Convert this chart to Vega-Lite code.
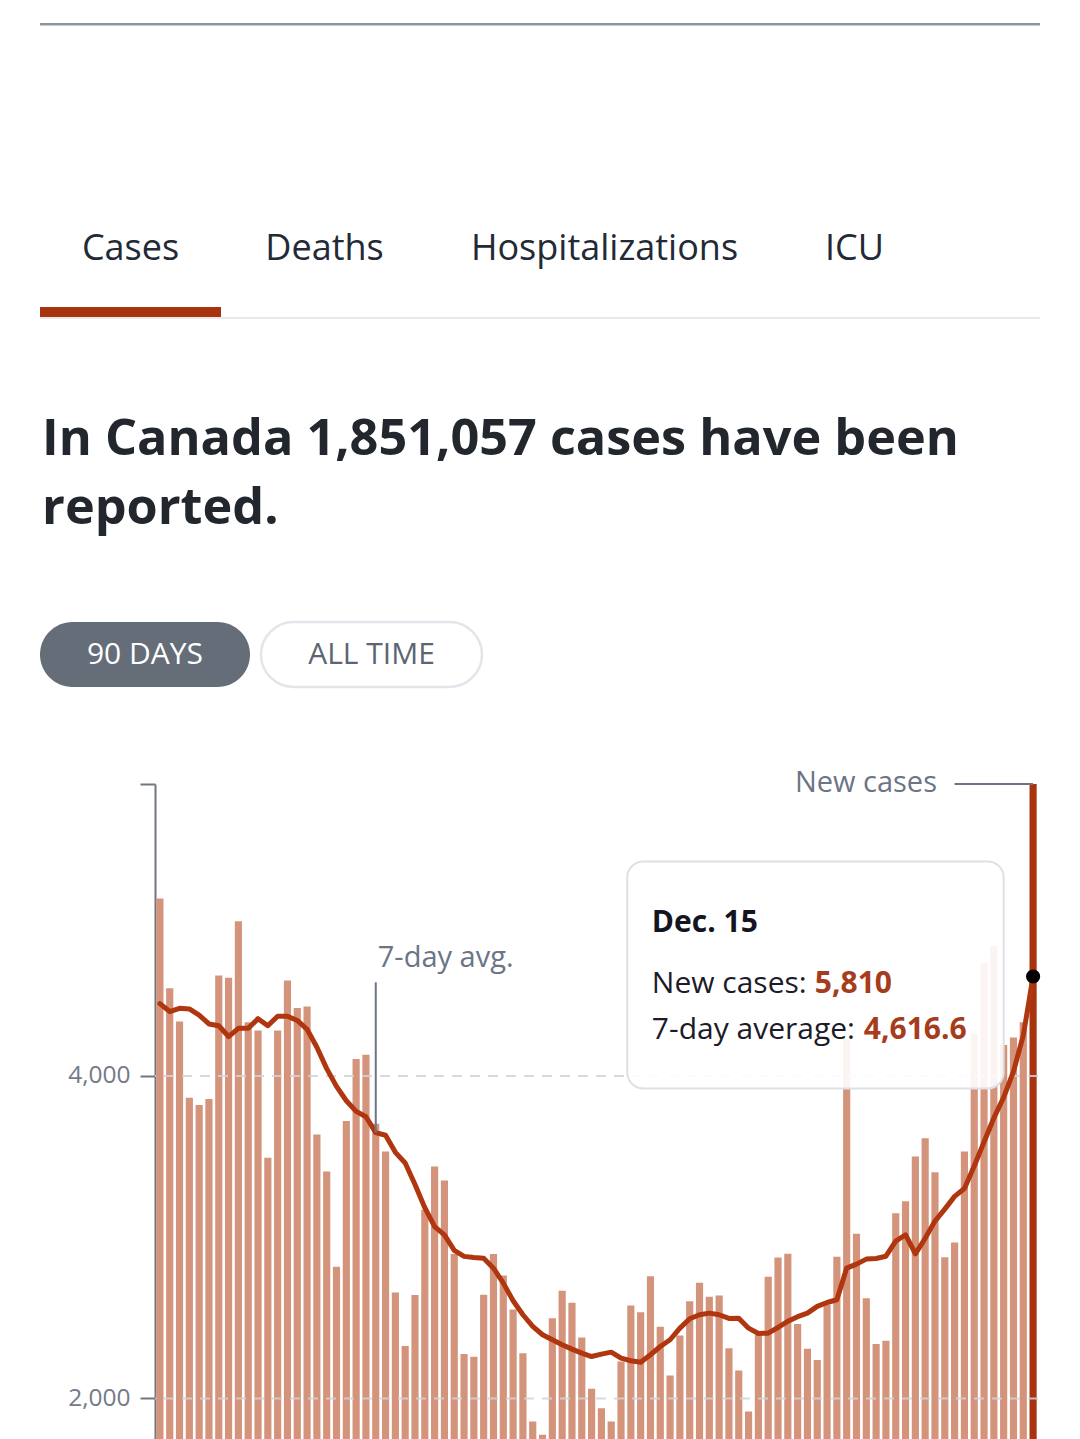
{
  "$schema": "https://vega.github.io/schema/vega-lite/v6.json",
  "background": "white",
  "padding": {"left": 40, "top": 23, "right": 40, "bottom": 0},
  "config": {"view": {"stroke": null}, "font": "Open Sans"},
  "datasets": {
    "daily": [
      {"date": "2021-09-17", "cases": 5100, "avg": 4448},
      {"date": "2021-09-18", "cases": 4543, "avg": 4399},
      {"date": "2021-09-19", "cases": 4337, "avg": 4419},
      {"date": "2021-09-20", "cases": 3864, "avg": 4415},
      {"date": "2021-09-21", "cases": 3820, "avg": 4377},
      {"date": "2021-09-22", "cases": 3857, "avg": 4322},
      {"date": "2021-09-23", "cases": 4623, "avg": 4311},
      {"date": "2021-09-24", "cases": 4609, "avg": 4244},
      {"date": "2021-09-25", "cases": 4959, "avg": 4295},
      {"date": "2021-09-26", "cases": 4333, "avg": 4295},
      {"date": "2021-09-27", "cases": 4282, "avg": 4355},
      {"date": "2021-09-28", "cases": 3493, "avg": 4311},
      {"date": "2021-09-29", "cases": 4282, "avg": 4370},
      {"date": "2021-09-30", "cases": 4592, "avg": 4370},
      {"date": "2021-10-01", "cases": 4421, "avg": 4344},
      {"date": "2021-10-02", "cases": 4430, "avg": 4289},
      {"date": "2021-10-03", "cases": 3637, "avg": 4178},
      {"date": "2021-10-04", "cases": 3407, "avg": 4045},
      {"date": "2021-10-05", "cases": 2816, "avg": 3935},
      {"date": "2021-10-06", "cases": 3720, "avg": 3846},
      {"date": "2021-10-07", "cases": 4105, "avg": 3780},
      {"date": "2021-10-08", "cases": 4131, "avg": 3747},
      {"date": "2021-10-09", "cases": 3703, "avg": 3648},
      {"date": "2021-10-10", "cases": 3532, "avg": 3632},
      {"date": "2021-10-11", "cases": 2657, "avg": 3526},
      {"date": "2021-10-12", "cases": 2326, "avg": 3460},
      {"date": "2021-10-13", "cases": 2642, "avg": 3327},
      {"date": "2021-10-14", "cases": 3170, "avg": 3183},
      {"date": "2021-10-15", "cases": 3439, "avg": 3065},
      {"date": "2021-10-16", "cases": 3352, "avg": 3014},
      {"date": "2021-10-17", "cases": 2895, "avg": 2918},
      {"date": "2021-10-18", "cases": 2275, "avg": 2881},
      {"date": "2021-10-19", "cases": 2259, "avg": 2874},
      {"date": "2021-10-20", "cases": 2643, "avg": 2870},
      {"date": "2021-10-21", "cases": 2895, "avg": 2808},
      {"date": "2021-10-22", "cases": 2763, "avg": 2715},
      {"date": "2021-10-23", "cases": 2552, "avg": 2606},
      {"date": "2021-10-24", "cases": 2281, "avg": 2519},
      {"date": "2021-10-25", "cases": 1857, "avg": 2447},
      {"date": "2021-10-26", "cases": 1775, "avg": 2395},
      {"date": "2021-10-27", "cases": 2498, "avg": 2364},
      {"date": "2021-10-28", "cases": 2668, "avg": 2333},
      {"date": "2021-10-29", "cases": 2593, "avg": 2306},
      {"date": "2021-10-30", "cases": 2378, "avg": 2281},
      {"date": "2021-10-31", "cases": 2060, "avg": 2260},
      {"date": "2021-11-01", "cases": 1940, "avg": 2275},
      {"date": "2021-11-02", "cases": 1857, "avg": 2287},
      {"date": "2021-11-03", "cases": 2229, "avg": 2250},
      {"date": "2021-11-04", "cases": 2577, "avg": 2234},
      {"date": "2021-11-05", "cases": 2535, "avg": 2225},
      {"date": "2021-11-06", "cases": 2757, "avg": 2271},
      {"date": "2021-11-07", "cases": 2445, "avg": 2322},
      {"date": "2021-11-08", "cases": 2143, "avg": 2364},
      {"date": "2021-11-09", "cases": 2391, "avg": 2436},
      {"date": "2021-11-10", "cases": 2602, "avg": 2494},
      {"date": "2021-11-11", "cases": 2718, "avg": 2519},
      {"date": "2021-11-12", "cases": 2631, "avg": 2529},
      {"date": "2021-11-13", "cases": 2639, "avg": 2519},
      {"date": "2021-11-14", "cases": 2312, "avg": 2496},
      {"date": "2021-11-15", "cases": 2174, "avg": 2498},
      {"date": "2021-11-16", "cases": 1919, "avg": 2436},
      {"date": "2021-11-17", "cases": 2395, "avg": 2403},
      {"date": "2021-11-18", "cases": 2755, "avg": 2405},
      {"date": "2021-11-19", "cases": 2874, "avg": 2440},
      {"date": "2021-11-20", "cases": 2897, "avg": 2478},
      {"date": "2021-11-21", "cases": 2461, "avg": 2507},
      {"date": "2021-11-22", "cases": 2308, "avg": 2529},
      {"date": "2021-11-23", "cases": 2238, "avg": 2571},
      {"date": "2021-11-24", "cases": 2581, "avg": 2595},
      {"date": "2021-11-25", "cases": 2879, "avg": 2612},
      {"date": "2021-11-26", "cases": 4229, "avg": 2808},
      {"date": "2021-11-27", "cases": 3021, "avg": 2833},
      {"date": "2021-11-28", "cases": 2622, "avg": 2864},
      {"date": "2021-11-29", "cases": 2337, "avg": 2868},
      {"date": "2021-11-30", "cases": 2358, "avg": 2882},
      {"date": "2021-12-01", "cases": 3149, "avg": 2976},
      {"date": "2021-12-02", "cases": 3223, "avg": 3015},
      {"date": "2021-12-03", "cases": 3500, "avg": 2897},
      {"date": "2021-12-04", "cases": 3613, "avg": 2993},
      {"date": "2021-12-05", "cases": 3402, "avg": 3100},
      {"date": "2021-12-06", "cases": 2876, "avg": 3174},
      {"date": "2021-12-07", "cases": 2967, "avg": 3253},
      {"date": "2021-12-08", "cases": 3532, "avg": 3302},
      {"date": "2021-12-09", "cases": 4262, "avg": 3441},
      {"date": "2021-12-10", "cases": 4698, "avg": 3590},
      {"date": "2021-12-11", "cases": 4805, "avg": 3739},
      {"date": "2021-12-12", "cases": 4191, "avg": 3867},
      {"date": "2021-12-13", "cases": 4238, "avg": 4027},
      {"date": "2021-12-14", "cases": 4332, "avg": 4251},
      {"date": "2021-12-15", "cases": 5810, "avg": 4616.6}
    ]
  },
  "bounds": "flush",
  "spacing": 0,
  "vconcat": [
    {"width": 1000, "height": 2.5, "data": {"values": [{"part": "top rule"}]}, "mark": {"type": "rect", "color": "#8e949c"}, "encoding": {}},
    {"width": 1000, "height": 280.5, "data": {"values": [{"part": "gap"}]}, "mark": {"type": "rect", "opacity": 0}, "encoding": {}},
    {
      "hconcat": [
        {"width": 181, "height": 10, "title": {"text": "Cases", "anchor": "middle", "frame": "group", "baseline": "alphabetic", "offset": 11, "font": "Open Sans", "fontSize": 36, "fontWeight": 500, "color": "#232a36"},
         "data": {"values": [{"tab": "Cases", "selected": true}]}, "mark": {"type": "rect", "color": "#a8330f"}, "encoding": {}},
        {"width": 207, "height": 10, "title": {"text": "Deaths", "anchor": "middle", "frame": "group", "baseline": "alphabetic", "offset": 11, "font": "Open Sans", "fontSize": 36, "fontWeight": 500, "color": "#232a36"},
         "data": {"values": [{"tab": "Deaths", "selected": false}]}, "mark": {"type": "rect", "opacity": 0}, "encoding": {}},
        {"width": 353, "height": 10, "title": {"text": "Hospitalizations", "anchor": "middle", "frame": "group", "baseline": "alphabetic", "offset": 11, "font": "Open Sans", "fontSize": 36, "fontWeight": 500, "color": "#232a36"},
         "data": {"values": [{"tab": "Hospitalizations", "selected": false}]}, "mark": {"type": "rect", "opacity": 0}, "encoding": {}},
        {"width": 147, "height": 10, "title": {"text": "ICU", "anchor": "middle", "frame": "group", "baseline": "alphabetic", "offset": 11, "font": "Open Sans", "fontSize": 36, "fontWeight": 500, "color": "#232a36"},
         "data": {"values": [{"tab": "ICU", "selected": false}]}, "mark": {"type": "rect", "opacity": 0}, "encoding": {}},
        {"width": 112, "height": 10, "data": {"values": [{"tab": "", "selected": false}]}, "mark": {"type": "rect", "opacity": 0}, "encoding": {}}
      ],
      "spacing": 0,
      "bounds": "flush"
    },
    {"width": 1000, "height": 10, "data": {"values": [{"part": "gap"}]}, "mark": {"type": "rect", "opacity": 0}, "encoding": {}},
    {"width": 1000, "height": 2, "data": {"values": [{"part": "tab rule"}]}, "mark": {"type": "rect", "color": "#e8e9eb"}, "encoding": {}},
    {"width": 1000, "height": 303, "data": {"values": [{"part": "gap"}]}, "mark": {"type": "rect", "opacity": 0}, "encoding": {}},
    {
      "hconcat": [
        {"width": 210, "height": 65,
         "title": {"text": ["In Canada 1,851,057 cases have been", "reported."], "anchor": "start", "frame": "group", "baseline": "bottom", "offset": 36.5, "dx": 2, "lineHeight": 69, "font": "Open Sans", "fontSize": 50.4, "fontWeight": 700, "color": "#22262d"},
         "data": {"values": [{"label": "90 DAYS", "active": true}]},
         "layer": [
           {"mark": {"type": "rect", "color": "#646d78", "cornerRadius": 32.5}, "encoding": {}},
           {"mark": {"type": "text", "color": "#ffffff", "fontSize": 30, "baseline": "middle", "font": "Open Sans"}, "encoding": {"text": {"field": "label"}}}
         ]},
        {"width": 221, "height": 65,
         "data": {"values": [{"label": "ALL TIME", "active": false}]},
         "layer": [
           {"mark": {"type": "rect", "fill": "#ffffff", "stroke": "#e2e5ea", "strokeWidth": 2.5, "cornerRadius": 32.5}, "encoding": {}},
           {"mark": {"type": "text", "color": "#5c6673", "fontSize": 30, "baseline": "middle", "font": "Open Sans"}, "encoding": {"text": {"field": "label"}}}
         ]}
      ],
      "spacing": 11,
      "bounds": "flush"
    },
    {"width": 1000, "height": 161.5, "data": {"values": [{"part": "gap"}]}, "mark": {"type": "rect", "opacity": 0}, "encoding": {}},
    {
      "hconcat": [
        {"width": 115, "height": 937, "data": {"values": [{"part": "axis gutter"}]}, "mark": {"type": "rect", "opacity": 0}, "encoding": {}},
        {
          "width": 883,
          "height": 937,
          "layer": [
            {"data": {"name": "daily"}, "mark": {"type": "bar"},
             "encoding": {
               "x": {"field": "date", "type": "ordinal", "scale": {"paddingInner": 0.27, "paddingOuter": 0.135}, "axis": null},
               "y": {"field": "cases", "type": "quantitative", "scale": {"domain": [0, 5810], "nice": false, "zero": true},
                     "axis": {"values": [2000, 4000, 5810], "labelExpr": "datum.value > 5000 ? '' : format(datum.value, ',')", "title": null, "grid": false,
                              "domainColor": "#6f7782", "domainWidth": 2, "tickColor": "#6f7782", "tickWidth": 2, "tickSize": 15,
                              "labelColor": "#737b87", "labelFontSize": 24.5, "labelFont": "Open Sans", "labelPadding": 10}},
               "color": {"condition": {"test": "datum.date === '2021-12-15'", "value": "#a8330f"}, "value": "#d4937b"}
             }},
            {"data": {"values": [{"v": 2000}, {"v": 4000}]}, "mark": {"type": "rule", "color": "#cfd3da", "strokeWidth": 2, "strokeDash": [10, 8], "opacity": 0.85},
             "encoding": {"y": {"field": "v", "type": "quantitative"}}},
            {"data": {"name": "daily"}, "mark": {"type": "line", "color": "#b0360f", "strokeWidth": 5, "strokeJoin": "round", "strokeCap": "round"},
             "encoding": {"x": {"field": "date", "type": "ordinal", "axis": null}, "y": {"field": "avg", "type": "quantitative"}}},
            {"data": {"values": [{"label": "7-day avg."}]}, "mark": {"type": "rule", "color": "#6b7585", "strokeWidth": 2},
             "encoding": {"x": {"datum": "2021-10-09", "type": "ordinal", "axis": null}, "y": {"datum": 4580, "type": "quantitative"}, "y2": {"datum": 3648}}},
            {"data": {"values": [{"label": "7-day avg."}]}, "mark": {"type": "text", "align": "left", "baseline": "alphabetic", "dx": 2, "fontSize": 29, "color": "#6b7585", "font": "Open Sans"},
             "encoding": {"x": {"datum": "2021-10-09", "type": "ordinal", "axis": null}, "y": {"datum": 4675, "type": "quantitative"}, "text": {"field": "label"}}},
            {"data": {"values": [{"label": "New cases"}]}, "mark": {"type": "rule", "color": "#6b7585", "strokeWidth": 2},
             "encoding": {"x": {"datum": "2021-12-07", "type": "ordinal", "axis": null}, "x2": {"datum": "2021-12-15"}, "y": {"datum": 5810, "type": "quantitative"}}},
            {"data": {"values": [{"label": "New cases"}]}, "mark": {"type": "text", "align": "right", "baseline": "alphabetic", "dx": 2, "dy": 8, "fontSize": 29, "color": "#6b7585", "font": "Open Sans"},
             "encoding": {"x": {"datum": "2021-12-05", "type": "ordinal", "axis": null}, "y": {"datum": 5810, "type": "quantitative"}, "text": {"field": "label"}}},
            {"data": {"values": [{"box": "tooltip"}]}, "mark": {"type": "rect", "fill": "#ffffff", "fillOpacity": 0.9, "stroke": "#dde0e5", "strokeWidth": 2, "cornerRadius": 16},
             "encoding": {"x": {"datum": "2021-11-04", "type": "ordinal", "axis": null, "bandPosition": 0}, "x2": {"datum": "2021-12-12"}, "y": {"datum": 5330, "type": "quantitative"}, "y2": {"datum": 3922}}},
            {"data": {"values": [{"t": "Dec. 15"}]}, "mark": {"type": "text", "align": "left", "baseline": "alphabetic", "dx": 21, "fontSize": 30, "fontWeight": 700, "color": "#15151f", "font": "Open Sans"},
             "encoding": {"x": {"datum": "2021-11-04", "type": "ordinal", "axis": null}, "y": {"datum": 4890, "type": "quantitative"}, "text": {"field": "t"}}},
            {"data": {"values": [{"t": "New cases:"}]}, "mark": {"type": "text", "align": "left", "baseline": "alphabetic", "dx": 21, "fontSize": 30, "color": "#1b1b2a", "font": "Open Sans"},
             "encoding": {"x": {"datum": "2021-11-04", "type": "ordinal", "axis": null}, "y": {"datum": 4512, "type": "quantitative"}, "text": {"field": "t"}}},
            {"data": {"values": [{"t": "7-day average:"}]}, "mark": {"type": "text", "align": "left", "baseline": "alphabetic", "dx": 21, "fontSize": 30, "color": "#1b1b2a", "font": "Open Sans"},
             "encoding": {"x": {"datum": "2021-11-04", "type": "ordinal", "axis": null}, "y": {"datum": 4229.5, "type": "quantitative"}, "text": {"field": "t"}}},
            {"data": {"name": "daily"}, "transform": [{"filter": "datum.date === '2021-12-15'"}],
             "mark": {"type": "text", "align": "left", "baseline": "alphabetic", "dx": 184, "fontSize": 30, "fontWeight": 700, "color": "#a63c1c", "font": "Open Sans"},
             "encoding": {"x": {"datum": "2021-11-04", "type": "ordinal", "axis": null}, "y": {"datum": 4512, "type": "quantitative"}, "text": {"field": "cases", "type": "quantitative", "format": ","}}},
            {"data": {"name": "daily"}, "transform": [{"filter": "datum.date === '2021-12-15'"}],
             "mark": {"type": "text", "align": "left", "baseline": "alphabetic", "dx": 233, "fontSize": 30, "fontWeight": 700, "color": "#a63c1c", "font": "Open Sans"},
             "encoding": {"x": {"datum": "2021-11-04", "type": "ordinal", "axis": null}, "y": {"datum": 4229.5, "type": "quantitative"}, "text": {"field": "avg", "type": "quantitative", "format": ",.1f"}}},
            {"data": {"name": "daily"}, "transform": [{"filter": "datum.date === '2021-12-15'"}],
             "mark": {"type": "point", "filled": true, "color": "#000000", "size": 200, "opacity": 1},
             "encoding": {"x": {"field": "date", "type": "ordinal", "axis": null}, "y": {"field": "avg", "type": "quantitative"}}}
          ]
        }
      ],
      "spacing": 0,
      "bounds": "flush"
    }
  ]
}
